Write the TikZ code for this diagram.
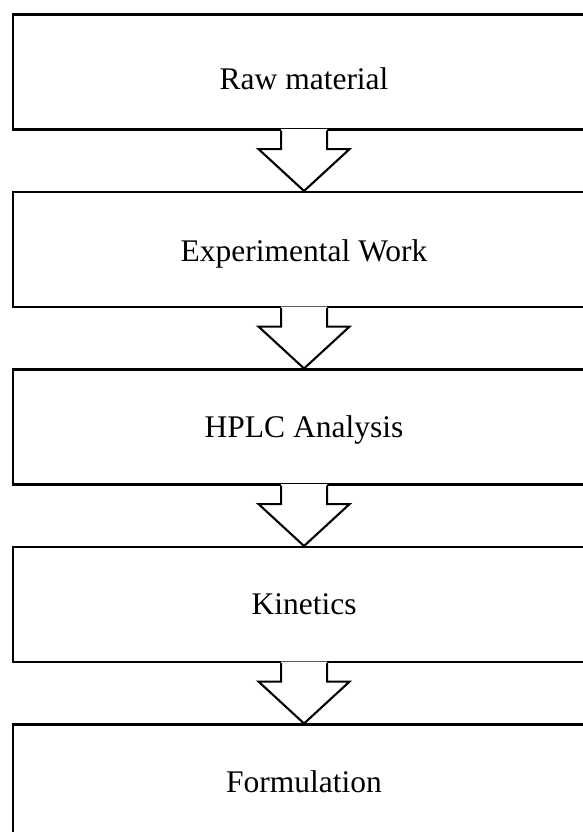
\documentclass[tikz,border=0pt]{standalone}
\usepackage{fontspec}
\setmainfont{Liberation Serif}
\usetikzlibrary{calc}
\newcommand\blockarrow[2]{%
  \fill[white] ($(#1.south)+(-23,1.4)$) -- ($(#1.south)+(-23,-18.5)$)
     -- ($(#1.south)+(-45.5,-18.5)$) -- (#2.north)
     -- ($(#1.south)+(45.5,-18.5)$) -- ($(#1.south)+(23,-18.5)$)
     -- ($(#1.south)+(23,1.4)$) -- cycle;
  \draw[arrowline] ($(#1.south)+(-23,0)$) -- ($(#1.south)+(-23,-18.5)$)
     -- ($(#1.south)+(-45.5,-18.5)$) -- (#2.north)
     -- ($(#1.south)+(45.5,-18.5)$) -- ($(#1.south)+(23,-18.5)$)
     -- ($(#1.south)+(23,0)$);
}
\begin{document}
\begin{tikzpicture}[x=1pt,y=1pt,line width=2.1pt,
  stage/.style={draw=black, rectangle, minimum width=582pt, minimum height=115pt,
    anchor=north west, inner sep=0pt, text height=20.8pt, text depth=0pt,
    font=\fontsize{31.5}{36}\selectfont},
  arrowline/.style={draw=black, line join=miter}]
\useasboundingbox (0,0) rectangle (583,832);
\clip (0,0) rectangle (583,832);
\fill[white] (0,0) rectangle (583,832);
\node[stage, text height=34pt] (b1) at (12,818.5) {Raw material};
\node[stage, text height=24pt] (b2) at (12,641) {Experimental Work};
\node[stage] (b3) at (12,463.5) {HPLC Analysis};
\node[stage] (b4) at (12,286) {Kinetics};
\node[stage] (b5) at (12,108.5) {Formulation};
\blockarrow{b1}{b2}
\blockarrow{b2}{b3}
\blockarrow{b3}{b4}
\blockarrow{b4}{b5}
\end{tikzpicture}
\end{document}
